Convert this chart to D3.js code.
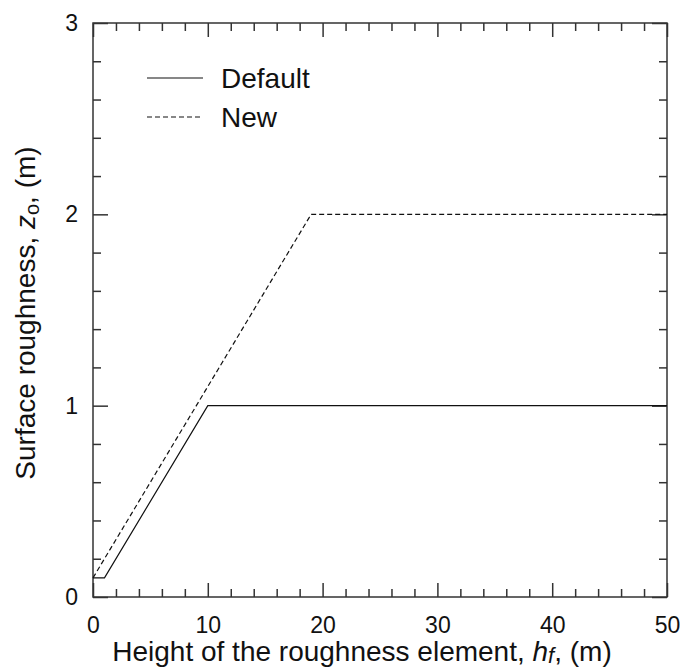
<!DOCTYPE html>
<html><head><meta charset="utf-8">
<script src="https://cdn.jsdelivr.net/npm/d3@7"></script>
<style>body{margin:0;background:#fff}svg{display:block}text{font-family:"Liberation Sans",Arial,sans-serif;fill:#111}</style>
</head><body><svg id="c" width="680" height="669"></svg>
<script>
const seriesNames = ["Default", "New"];
const defaultH = [0, 1, 10, 50];
const defaultZ = [0.1, 0.1, 1, 1];
const newH = [0, 19, 50];
const newZ = [0.1, 2, 2];
const xTicks = [0, 10, 20, 30, 40, 50];
const yTicks = [0, 1, 2, 3];

const svg = d3.select("#c");
const L = 93, R = 667, T = 23, B = 597;
const x = d3.scaleLinear().domain([0, 50]).range([L, R]);
const y = d3.scaleLinear().domain([0, 3]).range([B, T]);
const xMinor = d3.range(0, 51, 2).filter(v => v % 10 !== 0);
const yMinor = d3.range(0, 3.01, 0.2).map(v => +v.toFixed(1)).filter(v => Math.abs(v - Math.round(v)) > 1e-6);

function styleAxis(g) {
  g.select(".domain").remove();
  g.selectAll("line").attr("stroke", "#333").attr("stroke-width", 1.5);
}
const fs = 23, lfs = 28;
const ff = "Liberation Sans, Arial, sans-serif";
// bottom
svg.append("g").attr("transform", `translate(0,${B})`)
  .call(d3.axisBottom(x).tickValues(xTicks).tickSizeInner(-14).tickPadding(36).tickFormat(d3.format("d")))
  .call(styleAxis).call(g => g.selectAll("text").attr("font-size", fs).attr("fill", "#111").attr("dy", 0).attr("font-family", ff));
svg.append("g").attr("transform", `translate(0,${B})`)
  .call(d3.axisBottom(x).tickValues(xMinor).tickSizeInner(-8).tickFormat(""))
  .call(styleAxis);
// top
svg.append("g").attr("transform", `translate(0,${T})`)
  .call(d3.axisTop(x).tickValues(xTicks).tickSizeInner(-14).tickFormat(""))
  .call(styleAxis);
svg.append("g").attr("transform", `translate(0,${T})`)
  .call(d3.axisTop(x).tickValues(xMinor).tickSizeInner(-8).tickFormat(""))
  .call(styleAxis);
// left
svg.append("g").attr("transform", `translate(${L},0)`)
  .call(d3.axisLeft(y).tickValues(yTicks).tickSizeInner(-15).tickPadding(15).tickFormat(d3.format("d")))
  .call(styleAxis).call(g => g.selectAll("text").attr("font-size", fs).attr("fill", "#111").attr("font-family", ff));
svg.append("g").attr("transform", `translate(${L},0)`)
  .call(d3.axisLeft(y).tickValues(yMinor).tickSizeInner(-8).tickFormat(""))
  .call(styleAxis);
// right
svg.append("g").attr("transform", `translate(${R},0)`)
  .call(d3.axisRight(y).tickValues(yTicks).tickSizeInner(-15).tickFormat(""))
  .call(styleAxis);
svg.append("g").attr("transform", `translate(${R},0)`)
  .call(d3.axisRight(y).tickValues(yMinor).tickSizeInner(-8).tickFormat(""))
  .call(styleAxis);

// frame
svg.append("rect").attr("x", L).attr("y", T).attr("width", R - L).attr("height", B - T)
  .attr("fill", "none").attr("stroke", "#333").attr("stroke-width", 1.5);

const line = d3.line().x(d => x(d[0])).y(d => y(d[1]));
const dData = defaultH.map((h, i) => [h, defaultZ[i]]);
const nData = newH.map((h, i) => [h, newZ[i]]);
svg.append("path").datum(dData).attr("d", line).attr("fill", "none").attr("stroke", "#111").attr("stroke-width", 1.2);
svg.append("path").datum(nData).attr("d", line).attr("fill", "none").attr("stroke", "#111").attr("stroke-width", 1.2).attr("stroke-dasharray", "5,3");

// legend
const leg = svg.append("g");
[[78, null], [117, "5,3"]].forEach((s, i) => {
  leg.append("line").attr("x1", 147).attr("x2", 203).attr("y1", s[0]).attr("y2", s[0])
    .attr("stroke", "#111").attr("stroke-width", 1.2).attr("stroke-dasharray", s[1]);
  leg.append("text").attr("x", 221).attr("y", s[0]).attr("dy", "0.35em").attr("font-size", lfs).text(seriesNames[i]);
});

// x label
const xl = svg.append("text").attr("x", 362).attr("y", 661).attr("text-anchor", "middle").attr("font-size", lfs);
xl.append("tspan").text("Height of the roughness element, ");
xl.append("tspan").attr("font-style", "italic").text("h");
xl.append("tspan").attr("font-style", "italic").attr("font-size", 22).attr("dy", 2).text("f");
xl.append("tspan").attr("dy", -2).text(", (m)");

// y label
const yl = svg.append("text").attr("transform", "translate(35,313) rotate(-90)").attr("text-anchor", "middle").attr("font-size", lfs);
yl.append("tspan").text("Surface roughness, ");
yl.append("tspan").attr("font-style", "italic").text("z");
yl.append("tspan").attr("font-size", 20).attr("dy", 4).text("o");
yl.append("tspan").attr("dy", -4).text(", (m)");
</script></body></html>
